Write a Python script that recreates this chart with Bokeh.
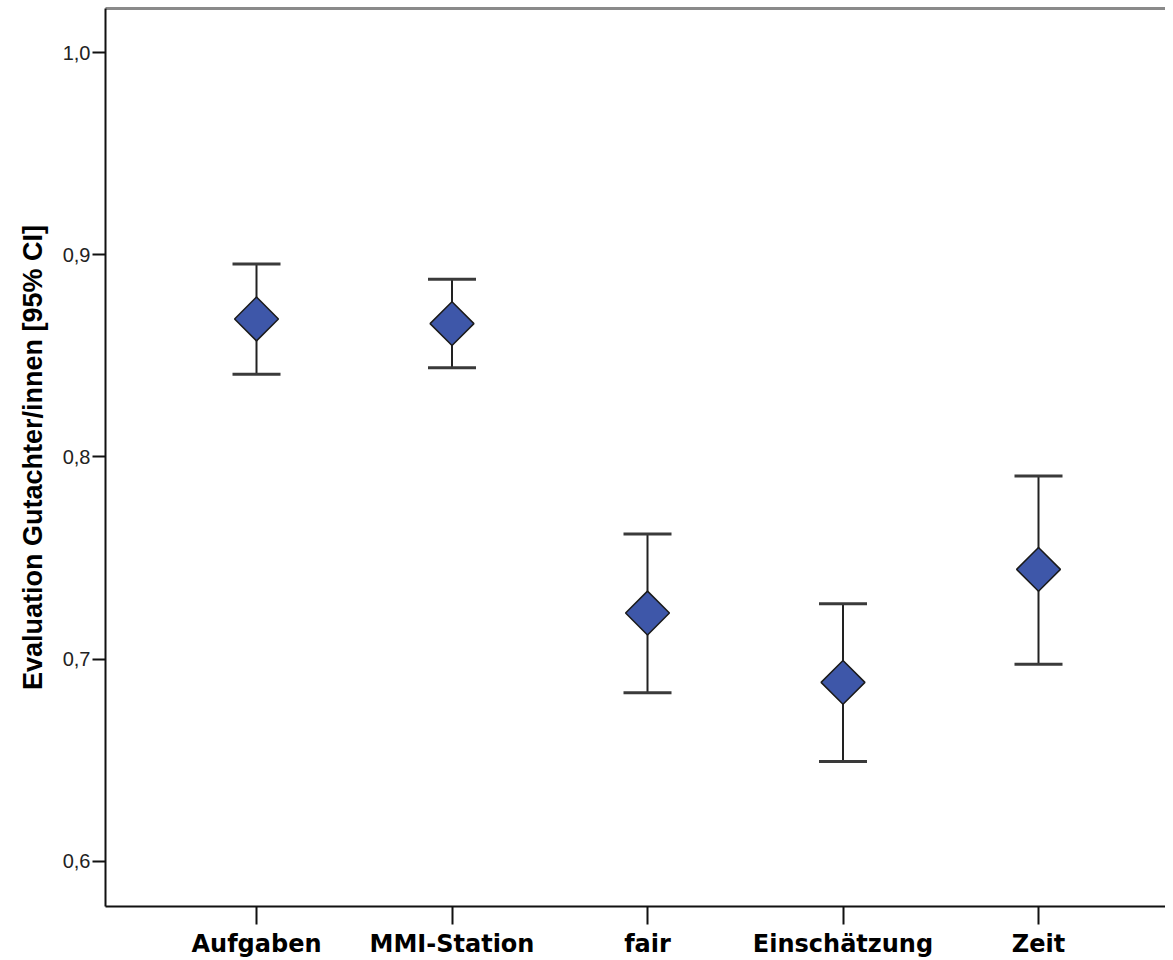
import math
from bokeh.plotting import figure
from bokeh.models import (ColumnDataSource, Whisker, TeeHead, Range1d, FixedTicker,
                          CustomJSTickFormatter, LinearAxis, Title)
from bokeh.embed import file_html
from bokeh.resources import INLINE

categories = ["Aufgaben", "MMI-Station", "fair", "Einschätzung", "Zeit"]
means = [0.8683, 0.8660, 0.7228, 0.6885, 0.7444]
upper_ci = [0.8955, 0.8880, 0.7619, 0.7274, 0.7906]
lower_ci = [0.8409, 0.8441, 0.6833, 0.6494, 0.6974]
y_ticks = [0.6, 0.7, 0.8, 0.9, 1.0]
y_label = "Evaluation Gutachter/innen [95% CI]"

xs = list(range(len(categories)))
src = ColumnDataSource(dict(x=xs, mean=means, upper=upper_ci, lower=lower_ci))

p = figure(width=1165, height=960, output_backend="svg", toolbar_location=None,
           x_range=Range1d(-0.7724, 4.6496), y_range=Range1d(0.5776, 1.0219),
           min_border_left=105, min_border_right=0, min_border_top=8, min_border_bottom=53)
p.background_fill_color = "white"
p.border_fill_color = "white"
p.outline_line_color = None
p.xgrid.visible = False
p.ygrid.visible = False

# x axis (below only)
xa = p.below[0]
xa.ticker = FixedTicker(ticks=xs)
xa.major_label_overrides = {i: c for i, c in zip(xs, categories)}
xa.major_label_text_font = "DejaVu Sans"
xa.major_label_text_font_style = "bold"
xa.major_label_text_font_size = "24px"
xa.major_label_text_color = "black"
xa.major_label_standoff = 5
xa.axis_line_color = "#111111"
xa.axis_line_width = 2
xa.major_tick_line_color = "#111111"
xa.major_tick_line_width = 2
xa.major_tick_out = 18
xa.major_tick_in = 0
xa.minor_tick_line_color = None

# top frame line (gray)
top_axis = LinearAxis(ticker=FixedTicker(ticks=[]), axis_line_color="#8a8a8a", axis_line_width=3,
                      major_tick_line_color=None, minor_tick_line_color=None,
                      major_tick_out=0, major_tick_in=0,
                      major_label_text_alpha=0, major_label_text_font_size="0px",
                      major_label_standoff=0)
p.add_layout(top_axis, "above")

# y axis
ya = p.left[0]
ya.ticker = FixedTicker(ticks=y_ticks)
ya.formatter = CustomJSTickFormatter(code="return tick.toFixed(1).replace('.', ',');")
ya.major_label_text_font = "Liberation Sans"
ya.major_label_text_font_size = "20px"
ya.major_label_text_color = "#222222"
ya.major_label_standoff = 2
ya.axis_line_color = "#111111"
ya.axis_line_width = 2
ya.major_tick_line_color = "#111111"
ya.major_tick_line_width = 2
ya.major_tick_out = 13
ya.major_tick_in = 0
ya.minor_tick_line_color = None

# y-axis title (as a left title so it can be offset like the original)
yt = Title(text=y_label, align="center", offset=-16, standoff=23,
           text_font="Liberation Sans", text_font_style="bold",
           text_font_size="27px", text_color="black")
p.add_layout(yt, "left")

w = Whisker(source=src, base="x", upper="upper", lower="lower",
            line_color="#222222", line_width=2,
            upper_head=TeeHead(size=48, line_color="#3a3a3a", line_width=3),
            lower_head=TeeHead(size=48, line_color="#3a3a3a", line_width=3))
p.add_layout(w)

p.scatter(x="x", y="mean", source=src, marker="square", angle=math.pi / 4, size=31,
          fill_color="#3E57A9", line_color="#1a1a1a", line_width=1.5)

open("out.html", "w").write(file_html(p, INLINE))
